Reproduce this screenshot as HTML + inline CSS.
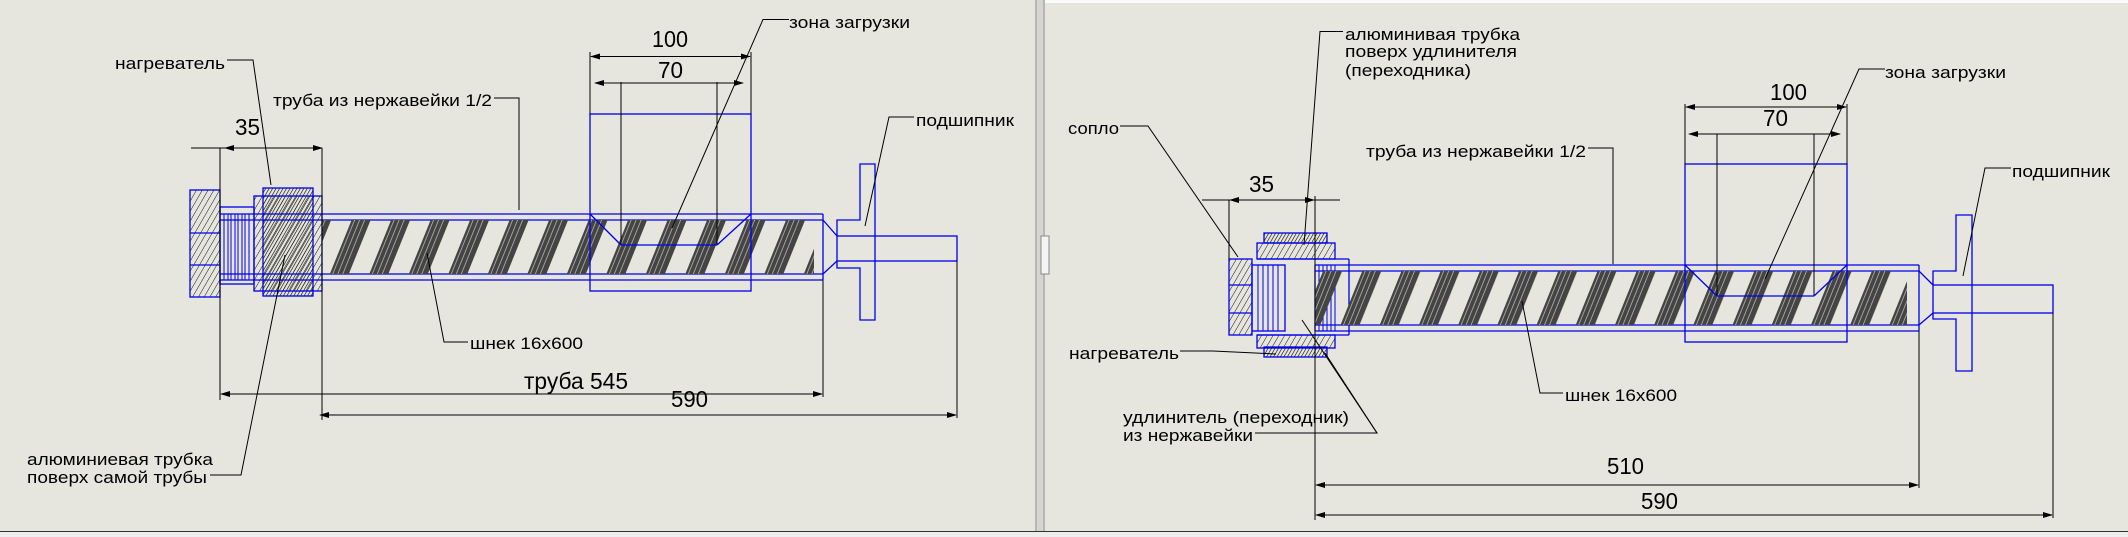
<!DOCTYPE html>
<html><head><meta charset="utf-8"><style>
html,body{margin:0;padding:0;background:#e6e6de;}
svg{display:block}
text{font-family:"Liberation Sans",sans-serif;fill:#000}
</style></head><body>
<svg width="2128" height="537" viewBox="0 0 2128 537" xmlns="http://www.w3.org/2000/svg">
<defs>
<pattern id="h" width="5" height="5" patternUnits="userSpaceOnUse" patternTransform="rotate(30)">
<line x1="0" y1="0" x2="0" y2="5" stroke="#111" stroke-width="1"/></pattern>
<pattern id="hd" width="3" height="3" patternUnits="userSpaceOnUse" patternTransform="rotate(30)">
<line x1="0" y1="0" x2="0" y2="3" stroke="#000" stroke-width="1.2"/></pattern>
<pattern id="scrL" width="39.5" height="54" x="322" y="220" patternUnits="userSpaceOnUse" patternTransform="skewX(-22)">
<rect x="0" y="0" width="19" height="54" fill="#444"/>
<line x1="3" y1="0" x2="3" y2="54" stroke="#e6e6de" stroke-width="0.6"/>
<line x1="8" y1="0" x2="8" y2="54" stroke="#e6e6de" stroke-width="0.6"/>
<line x1="13" y1="0" x2="13" y2="54" stroke="#e6e6de" stroke-width="0.6"/>
</pattern>
<pattern id="scrR" width="39.2" height="54" x="1315" y="271" patternUnits="userSpaceOnUse" patternTransform="skewX(-22)">
<rect x="0" y="0" width="19" height="54" fill="#444"/>
<line x1="3" y1="0" x2="3" y2="54" stroke="#e6e6de" stroke-width="0.6"/>
<line x1="8" y1="0" x2="8" y2="54" stroke="#e6e6de" stroke-width="0.6"/>
<line x1="13" y1="0" x2="13" y2="54" stroke="#e6e6de" stroke-width="0.6"/>
</pattern>
<marker id="a" markerWidth="10" markerHeight="6" refX="9" refY="3" orient="auto-start-reverse" markerUnits="userSpaceOnUse"><path d="M0,0 L10,3 L0,6 z" fill="#000"/></marker>
</defs>
<rect width="2128" height="537" fill="#e6e6de"/>
<rect x="1035" y="0" width="10" height="531" fill="#d4d4d0"/>
<line x1="1036" y1="0" x2="1036" y2="531" stroke="#999" stroke-width="1"/>
<line x1="1044" y1="0" x2="1044" y2="531" stroke="#999" stroke-width="1"/>
<rect x="1041" y="236" width="8" height="38" fill="#f4f4f4" stroke="#888"/>
<rect x="1045" y="0" width="1083" height="3" fill="#fafafa"/>
<rect x="0" y="531" width="2128" height="6" fill="#eeeeee"/>
<line x1="0" y1="531.5" x2="2128" y2="531.5" stroke="#333" stroke-width="1"/>

<g fill="none" stroke="#0000ee" stroke-width="1.3">
<rect x="190" y="190" width="30" height="107" fill="url(#h)"/>
<line x1="190" y1="233" x2="220" y2="233"/><line x1="190" y1="265" x2="220" y2="265"/>
<rect x="220" y="207" width="34" height="77"/>
<g stroke-width="1">
<line x1="224" y1="214" x2="224" y2="280"/><line x1="228" y1="214" x2="228" y2="280"/><line x1="231" y1="214" x2="231" y2="280"/><line x1="235" y1="214" x2="235" y2="280"/><line x1="238" y1="214" x2="238" y2="280"/><line x1="242" y1="214" x2="242" y2="280"/><line x1="245" y1="214" x2="245" y2="280"/><line x1="249" y1="214" x2="249" y2="280"/></g>
<rect x="263" y="188" width="50" height="108" fill="url(#hd)"/>
<rect x="254" y="196" width="68" height="95" fill="url(#h)"/>
<line x1="220" y1="214" x2="823" y2="214"/><line x1="220" y1="280" x2="823" y2="280"/>
<line x1="220" y1="220" x2="814" y2="220"/><line x1="220" y1="274" x2="814" y2="274"/>
<rect x="322" y="220" width="492" height="54" fill="url(#scrL)" stroke="none"/>
<rect x="590" y="114" width="161" height="177"/>
<line x1="621" y1="82" x2="621" y2="245" stroke="#000" stroke-width="1"/>
<line x1="717" y1="82" x2="717" y2="245" stroke="#000" stroke-width="1"/>
<line x1="621" y1="245" x2="717" y2="245"/>
<line x1="590" y1="214" x2="596" y2="220"/><line x1="596" y1="220" x2="621" y2="245"/>
<line x1="751" y1="214" x2="717" y2="245"/>
<line x1="823" y1="214" x2="823" y2="280"/>
<polyline points="814,220 823,220 837,236"/><polyline points="814,274 823,274 837,261"/>
<polyline points="837,236 837,220 860,220 860,164 875,164 875,320 860,320 860,268 837,268 837,261"/>
<rect x="837" y="236" width="120" height="25"/>
<rect x="1229" y="259" width="23" height="76" fill="url(#h)"/>
<line x1="1229" y1="285" x2="1252" y2="285"/><line x1="1229" y1="313" x2="1252" y2="313"/>
<rect x="1252" y="265" width="33" height="66"/>
<g stroke-width="1"><line x1="1258" y1="265" x2="1258" y2="331"/><line x1="1263" y1="265" x2="1263" y2="331"/><line x1="1268" y1="265" x2="1268" y2="331"/><line x1="1273" y1="265" x2="1273" y2="331"/><line x1="1278" y1="265" x2="1278" y2="331"/>
<line x1="1319" y1="265" x2="1319" y2="331"/><line x1="1323" y1="265" x2="1323" y2="331"/><line x1="1327" y1="265" x2="1327" y2="331"/><line x1="1331" y1="265" x2="1331" y2="331"/><line x1="1335" y1="265" x2="1335" y2="331"/></g>
<rect x="1264" y="233" width="63" height="10" fill="url(#hd)"/>
<rect x="1264" y="347" width="63" height="10" fill="url(#hd)"/>
<rect x="1257" y="243" width="78" height="16" fill="url(#h)"/>
<rect x="1257" y="335" width="78" height="13" fill="url(#h)"/>
<line x1="1257" y1="259" x2="1349" y2="259"/><line x1="1257" y1="335" x2="1349" y2="335"/>
<line x1="1349" y1="259" x2="1349" y2="335"/>
<line x1="1315" y1="265" x2="1919" y2="265"/><line x1="1315" y1="331" x2="1919" y2="331"/>
<line x1="1315" y1="271" x2="1907" y2="271"/><line x1="1315" y1="325" x2="1907" y2="325"/>
<line x1="1315" y1="265" x2="1315" y2="331"/>
<rect x="1315" y="271" width="592" height="54" fill="url(#scrR)" stroke="none"/>
<rect x="1685" y="164" width="162" height="178"/>
<line x1="1717" y1="134" x2="1717" y2="296" stroke="#000" stroke-width="1"/>
<line x1="1814" y1="134" x2="1814" y2="296" stroke="#000" stroke-width="1"/>
<line x1="1717" y1="296" x2="1814" y2="296"/>
<line x1="1685" y1="265" x2="1717" y2="296"/><line x1="1847" y1="265" x2="1814" y2="296"/>
<line x1="1919" y1="265" x2="1919" y2="331"/>
<polyline points="1907,271 1919,271 1933,285"/><polyline points="1907,325 1919,325 1933,313"/>
<polyline points="1933,285 1933,271 1956,271 1956,215 1972,215 1972,371 1956,371 1956,319 1933,319 1933,313"/>
<rect x="1933" y="285" width="120" height="28"/>
</g>

<g stroke="#000" stroke-width="1" fill="none">
<line x1="220" y1="148" x2="220" y2="400"/><line x1="322" y1="148" x2="322" y2="420"/>
<line x1="191" y1="148" x2="322" y2="148"/>
<line x1="225" y1="148" x2="322" y2="148" marker-start="url(#a)" marker-end="url(#a)"/>
<line x1="590" y1="52" x2="590" y2="114"/><line x1="751" y1="52" x2="751" y2="114"/>
<line x1="591" y1="56.5" x2="750" y2="56.5" marker-start="url(#a)" marker-end="url(#a)"/>
<line x1="595" y1="83" x2="743" y2="83" marker-start="url(#a)" marker-end="url(#a)"/>
<line x1="823" y1="280" x2="823" y2="397"/><line x1="957" y1="261" x2="957" y2="418"/>
<line x1="221" y1="394" x2="822" y2="394" marker-start="url(#a)" marker-end="url(#a)"/>
<line x1="320" y1="415" x2="956" y2="415" marker-start="url(#a)" marker-end="url(#a)"/>
<polyline points="227,60 253,60 271,185"/>
<polyline points="494,98 519,98 519,210"/>
<polyline points="789,19.5 763,19.5 672,228"/>
<polyline points="914,117 889,117 865,226"/>
<polyline points="468,342 444,342 427,253"/>
<polyline points="210,475 241,475 285,255"/>
<line x1="1229" y1="200" x2="1229" y2="259"/><line x1="1315" y1="196" x2="1315" y2="520"/>
<line x1="1202" y1="200" x2="1340" y2="200"/>
<line x1="1230" y1="200" x2="1314" y2="200" marker-start="url(#a)" marker-end="url(#a)"/>
<line x1="1685" y1="104" x2="1685" y2="164"/><line x1="1847" y1="104" x2="1847" y2="164"/>
<line x1="1686" y1="107" x2="1846" y2="107" marker-start="url(#a)" marker-end="url(#a)"/>
<line x1="1689" y1="134" x2="1840" y2="134" marker-start="url(#a)" marker-end="url(#a)"/>
<line x1="1919" y1="331" x2="1919" y2="488"/><line x1="2053" y1="313" x2="2053" y2="518"/>
<line x1="1316" y1="485" x2="1918" y2="485" marker-start="url(#a)" marker-end="url(#a)"/>
<line x1="1316" y1="515" x2="2052" y2="515" marker-start="url(#a)" marker-end="url(#a)"/>
<polyline points="1343,31.5 1320,31.5 1304,245"/>
<polyline points="1120,126 1148,126 1238,257"/>
<polyline points="1588,148 1613,148 1613,264"/>
<polyline points="1885,69 1859,69 1765,279"/>
<polyline points="2011,168 1985,168 1963,276"/>
<polyline points="1180,351 1213,351 1276,354"/>
<polyline points="1563,393 1540,393 1522,301"/>
<polyline points="1255,433 1377,433 1325,353"/>
<line x1="1377" y1="433" x2="1302" y2="320"/>
</g>

<g font-size="17">
<text x="115" y="69" textLength="110" lengthAdjust="spacingAndGlyphs">нагреватель</text>
<text x="273" y="106" textLength="219" lengthAdjust="spacingAndGlyphs">труба из нержавейки 1/2</text>
<text x="789" y="28" textLength="121" lengthAdjust="spacingAndGlyphs">зона загрузки</text>
<text x="916" y="126" textLength="98" lengthAdjust="spacingAndGlyphs">подшипник</text>
<text x="470" y="349" textLength="113" lengthAdjust="spacingAndGlyphs">шнек 16x600</text>
<text x="27" y="465" textLength="186" lengthAdjust="spacingAndGlyphs">алюминиевая трубка</text>
<text x="27" y="483" textLength="180" lengthAdjust="spacingAndGlyphs">поверх самой трубы</text>
<text x="1345" y="40" textLength="175" lengthAdjust="spacingAndGlyphs">алюминивая трубка</text>
<text x="1345" y="57" textLength="172" lengthAdjust="spacingAndGlyphs">поверх удлинителя</text>
<text x="1345" y="76" textLength="126" lengthAdjust="spacingAndGlyphs">(переходника)</text>
<text x="1068" y="134" textLength="51" lengthAdjust="spacingAndGlyphs">сопло</text>
<text x="1366" y="157" textLength="220" lengthAdjust="spacingAndGlyphs">труба из нержавейки 1/2</text>
<text x="1885" y="78" textLength="121" lengthAdjust="spacingAndGlyphs">зона загрузки</text>
<text x="2012" y="177" textLength="98" lengthAdjust="spacingAndGlyphs">подшипник</text>
<text x="1069" y="359" textLength="110" lengthAdjust="spacingAndGlyphs">нагреватель</text>
<text x="1565" y="401" textLength="112" lengthAdjust="spacingAndGlyphs">шнек 16x600</text>
<text x="1123" y="423" textLength="226" lengthAdjust="spacingAndGlyphs">удлинитель (переходник)</text>
<text x="1123" y="441" textLength="130" lengthAdjust="spacingAndGlyphs">из нержавейки</text>
</g>
<g font-size="23">
<text x="652" y="47" textLength="36" lengthAdjust="spacingAndGlyphs">100</text>
<text x="658" y="78" textLength="25" lengthAdjust="spacingAndGlyphs">70</text>
<text x="235" y="135" textLength="25" lengthAdjust="spacingAndGlyphs">35</text>
<text x="524" y="389" textLength="104" lengthAdjust="spacingAndGlyphs">труба 545</text>
<text x="671" y="407" textLength="37" lengthAdjust="spacingAndGlyphs">590</text>
<text x="1770" y="100" textLength="37" lengthAdjust="spacingAndGlyphs">100</text>
<text x="1763" y="126" textLength="25" lengthAdjust="spacingAndGlyphs">70</text>
<text x="1249" y="192" textLength="25" lengthAdjust="spacingAndGlyphs">35</text>
<text x="1607" y="474" textLength="37" lengthAdjust="spacingAndGlyphs">510</text>
<text x="1641" y="509" textLength="37" lengthAdjust="spacingAndGlyphs">590</text>
</g>
</svg>
</body></html>
